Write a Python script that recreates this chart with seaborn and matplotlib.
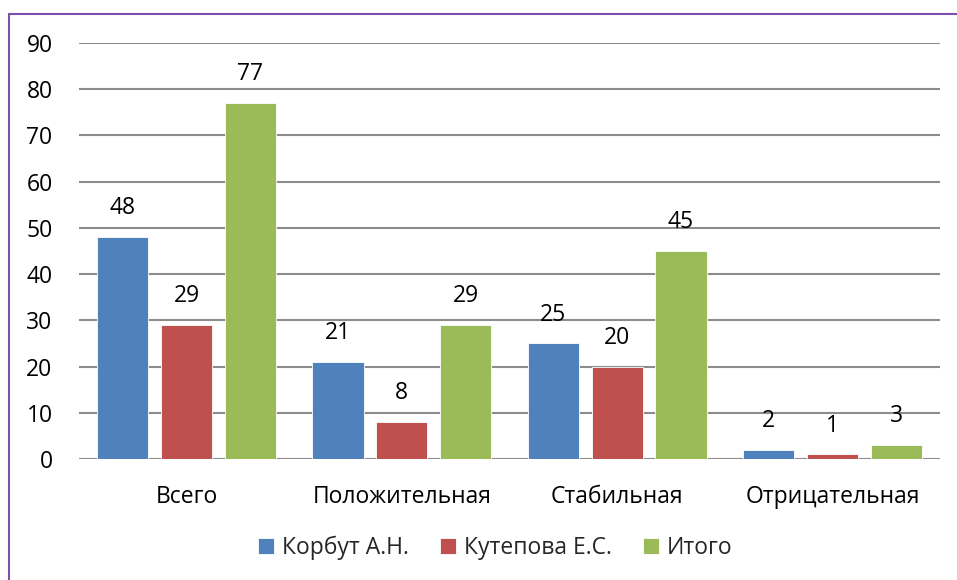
import matplotlib
matplotlib.use("Agg")
import matplotlib.pyplot as plt
import matplotlib.lines as mlines
import pandas as pd
import seaborn as sns

categories = ["Всего", "Положительная", "Стабильная", "Отрицательная"]
series = ["Корбут А.Н.", "Кутепова Е.С.", "Итого"]
korbut = [48, 21, 25, 2]
kutepova = [29, 8, 20, 1]
itogo = [77, 29, 45, 3]
yticks = [0, 10, 20, 30, 40, 50, 60, 70, 80, 90]

colors = ["#4F81BD", "#C0504D", "#9BBB59"]

rows = []
for name, vals in zip(series, [korbut, kutepova, itogo]):
    for cat, v in zip(categories, vals):
        rows.append({"category": cat, "series": name, "value": v})
df = pd.DataFrame(rows)

sns.set_style("white")
plt.rcParams["font.family"] = ["Open Sans", "DejaVu Sans"]
fs = 16.5

fig = plt.figure(figsize=(9.57, 5.80), dpi=100)
ax = fig.add_axes([79 / 957, 1 - 459 / 580, (940 - 79) / 957, (459 - 43) / 580])

sns.barplot(data=df, x="category", y="value", hue="series", order=categories,
            hue_order=series, palette=colors, width=0.89, gap=0.2,
            saturation=1, edgecolor="white", linewidth=0.6, ax=ax, zorder=3)

for cont in ax.containers:
    ax.bar_label(cont, padding=12, fontsize=fs, color="black")

ax.set_ylim(0, 90)
ax.set_yticks(yticks)
ax.set_xlim(-0.5, 3.5)
ax.yaxis.grid(True, color="#8c8c8c", linewidth=1.5, zorder=0)
ax.set_axisbelow(True)
for s in ax.spines.values():
    s.set_visible(False)
ax.tick_params(axis="both", length=0, labelsize=fs, colors="black")
ax.tick_params(axis="y", pad=19)
ax.tick_params(axis="x", pad=19)
ax.set_xlabel("")
ax.set_ylabel("")

ax.legend(loc="center", bbox_to_anchor=(495 / 957, 1 - 548 / 580),
          bbox_transform=fig.transFigure, ncol=3, frameon=False, fontsize=fs,
          handlelength=0.7, handleheight=0.7, handletextpad=0.35,
          columnspacing=1.35)

# purple outer frame (only top and left edges visible)
fig.add_artist(mlines.Line2D([9 / 957, 1], [1 - 13.5 / 580, 1 - 13.5 / 580],
                             transform=fig.transFigure, color="#7F4FB0", linewidth=1.5))
fig.add_artist(mlines.Line2D([9 / 957, 9 / 957], [0, 1 - 13.5 / 580],
                             transform=fig.transFigure, color="#7F4FB0", linewidth=1.5))

fig.savefig("out.png", dpi=100)
